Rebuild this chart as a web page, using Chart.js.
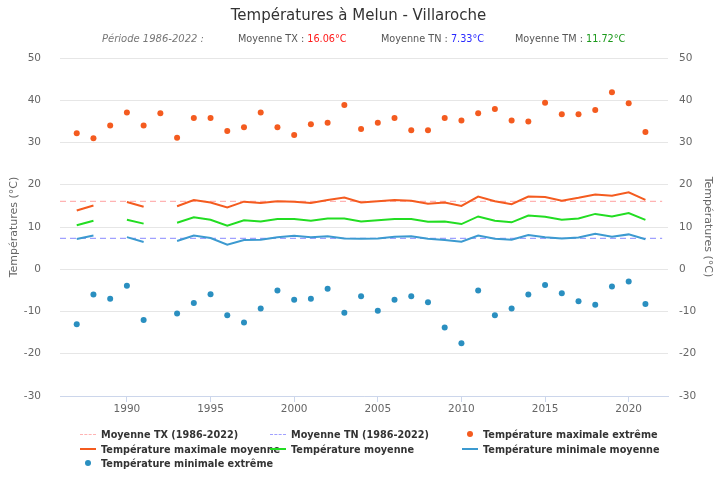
<!DOCTYPE html>
<html>
<head>
<meta charset="utf-8">
<script src="https://cdn.jsdelivr.net/npm/chart.js@4"></script>
<style>
  body { margin: 0; background: #fff; font-family: "DejaVu Sans", sans-serif; }
  #wrap { position: relative; width: 717px; height: 481px; overflow: hidden; }
  #chart { position: absolute; left: 0; top: 0; }
  #titre { position: absolute; top: 6px; left: 0; width: 717px; text-align: center; font-size: 15px; color: #333; }
  #sous { position: absolute; top: 33px; left: 0; width: 717px; font-size: 9.7px; color: #555; }
  #sous span { position: absolute; white-space: nowrap; }
  #legende { position: absolute; top: 429px; left: 80px; width: 600px; font-size: 9.7px; font-weight: bold; color: #333; }
  .item { position: absolute; white-space: nowrap; }
  .sym { display: inline-block; width: 16px; vertical-align: middle; margin-right: 5px; position: relative; top: -1px; }
</style>
</head>
<body>
<div id="wrap">
  <canvas id="chart" width="717" height="481"></canvas>
  <div id="titre">Températures à Melun - Villaroche</div>
  <div id="sous">
    <span style="left:102px;font-style:italic;color:#777;font-size:10px">Période 1986-2022 :</span>
    <span style="left:238px">Moyenne TX : <b style="font-weight:normal;color:#ff1a1a">16.06°C</b></span>
    <span style="left:381px">Moyenne TN : <b style="font-weight:normal;color:#2a2aff">7.33°C</b></span>
    <span style="left:515px">Moyenne TM : <b style="font-weight:normal;color:#1a991a">11.72°C</b></span>
  </div>
  <div id="legende"></div>
</div>
<script>
window.addEventListener('DOMContentLoaded', function () {

    // Années et séries (null = année manquante)
    const annees = [1987,1988,1989,1990,1991,1992,1993,1994,1995,1996,1997,1998,1999,2000,2001,2002,2003,2004,
                    2005,2006,2007,2008,2009,2010,2011,2012,2013,2014,2015,2016,2017,2018,2019,2020,2021];

    const txExtreme = [32.2,31.0,34.0,37.1,34.0,36.9,31.1,35.8,35.8,32.7,33.6,37.1,33.6,31.8,34.3,34.7,38.9,33.2,
                       34.7,35.8,32.9,32.9,35.8,35.2,36.9,37.9,35.2,35.0,39.4,36.7,36.7,37.7,41.9,39.3,32.5];
    const txMoyenne = [13.9,15.1,null,15.9,14.8,null,14.9,16.4,15.8,14.6,16.0,15.7,16.1,16.0,15.7,16.4,17.0,15.8,
                       16.1,16.4,16.2,15.5,15.8,15.0,17.2,16.1,15.4,17.2,17.1,16.2,16.9,17.7,17.4,18.2,16.4];
    const tmMoyenne = [10.4,11.5,null,11.7,10.8,null,11.0,12.3,11.7,10.3,11.6,11.3,11.9,11.9,11.5,12.0,12.0,11.3,
                       11.6,11.9,11.9,11.25,11.3,10.7,12.5,11.5,11.1,12.7,12.4,11.7,12.0,13.1,12.5,13.3,11.7];
    const tnMoyenne = [7.15,8.0,null,7.6,6.45,null,6.7,8.0,7.4,5.8,6.9,7.0,7.6,7.9,7.6,7.8,7.3,7.2,
                       7.3,7.7,7.8,7.2,6.9,6.5,8.0,7.2,7.0,8.1,7.6,7.3,7.5,8.4,7.7,8.25,7.1];
    const tnExtreme = [-13.0,-6.0,-7.0,-3.9,-12.0,null,-10.5,-8.0,-5.9,-10.9,-12.6,-9.3,-5.0,-7.2,-7.0,-4.6,-10.3,-6.4,
                       -9.8,-7.2,-6.4,-7.8,-13.8,-17.5,-5.0,-10.9,-9.3,-6.0,-3.7,-5.7,-7.6,-8.4,-4.1,-2.9,-8.2];

    const periode = [1986, 2022];
    const moyenneTX = 16.06;
    const moyenneTN = 7.33;
    const ticksAnnees = [1990,1995,2000,2005,2010,2015,2020];

    function points(valeurs) {
        return annees.map((a, i) => ({ x: a, y: valeurs[i] }));
    }
    function ligneMoyenne(v) {
        return periode.map(a => ({ x: a, y: v }));
    }

    const orange = '#f45b1f';
    const vert = '#22dd22';
    const bleu = '#3c9ad0';
    const bleuPoint = '#2a8fc0';

    const datasets = [
        { label: 'Moyenne TX (1986-2022)', type: 'line', data: ligneMoyenne(moyenneTX), borderColor: '#ffb3b3', borderDash: [6, 4], borderWidth: 1.3, pointRadius: 0, order: 5 },
        { label: 'Moyenne TN (1986-2022)', type: 'line', data: ligneMoyenne(moyenneTN), borderColor: '#a0a0ff', borderDash: [6, 4], borderWidth: 1.3, pointRadius: 0, order: 5 },
        { label: 'Température maximale extrême', type: 'scatter', data: points(txExtreme), backgroundColor: orange, borderColor: orange, pointRadius: 3, pointBorderWidth: 0, order: 1 },
        { label: 'Température maximale moyenne', type: 'line', data: points(txMoyenne), borderColor: orange, borderWidth: 2, pointRadius: 0, spanGaps: false, order: 2 },
        { label: 'Température moyenne', type: 'line', data: points(tmMoyenne), borderColor: vert, borderWidth: 2, pointRadius: 0, spanGaps: false, order: 2 },
        { label: 'Température minimale moyenne', type: 'line', data: points(tnMoyenne), borderColor: bleu, borderWidth: 2, pointRadius: 0, spanGaps: false, order: 2 },
        { label: 'Température minimale extrême', type: 'scatter', data: points(tnExtreme), backgroundColor: bleuPoint, borderColor: bleuPoint, pointRadius: 3, pointBorderWidth: 0, order: 1 }
    ];

    const gris = '#666';
    const policeAxe = { family: 'DejaVu Sans', size: 10.5 };

    const chart = new Chart(document.getElementById('chart').getContext('2d'), {
        type: 'line',
        data: { datasets: datasets },
        options: {
            responsive: false,
            animation: false,
            layout: { padding: { top: 58, bottom: 66, left: 0, right: 0 } },
            plugins: { legend: { display: false }, tooltip: { enabled: false } },
            scales: {
                x: {
                    type: 'linear', min: 1986, max: 2022.35,
                    afterBuildTicks: s => { s.ticks = ticksAnnees.map(v => ({ value: v })); },
                    afterFit: s => { s.height = 19; },
                    grid: { drawOnChartArea: false, color: '#ccd6eb', tickLength: 6 },
                    border: { color: '#ccd6eb' },
                    ticks: { color: gris, font: policeAxe, padding: 1, maxRotation: 0, callback: v => String(v) }
                },
                y: {
                    position: 'left', min: -30, max: 50,
                    afterFit: s => { s.width = 60; },
                    grid: { color: '#e6e6e6', drawTicks: false },
                    border: { display: false },
                    ticks: { stepSize: 10, color: gris, font: policeAxe, padding: 19 },
                    title: { display: true, text: 'Températures (°C)', color: gris, font: { family: 'DejaVu Sans', size: 11 }, padding: { top: 8, bottom: 0 } }
                },
                y2: {
                    position: 'right', min: -30, max: 50,
                    afterFit: s => { s.width = 49; },
                    grid: { display: false, drawTicks: false },
                    border: { display: false },
                    ticks: { stepSize: 10, color: gris, font: policeAxe, padding: 11 },
                    title: { display: true, text: 'Températures (°C)', color: gris, font: { family: 'DejaVu Sans', size: 11 }, padding: { top: 3, bottom: 0 } }
                }
            }
        }
    });

    // Légende HTML en trois colonnes
    const legende = document.getElementById('legende');
    const cols = [0, 190, 382];
    chart.data.datasets.forEach((ds, i) => {
        const item = document.createElement('div');
        item.className = 'item';
        item.style.left = cols[i % 3] + 'px';
        item.style.top = (Math.floor(i / 3) * 14.5) + 'px';
        const sym = document.createElement('span');
        sym.className = 'sym';
        if (ds.type === 'scatter') {
            sym.innerHTML = '<span style="display:block;width:6px;height:6px;border-radius:3px;margin-left:5px;background:' + ds.backgroundColor + '"></span>';
        } else if (ds.borderDash) {
            sym.style.borderTop = '1.5px dashed ' + ds.borderColor;
        } else {
            sym.style.borderTop = '2px solid ' + ds.borderColor;
        }
        item.appendChild(sym);
        item.appendChild(document.createTextNode(ds.label));
        legende.appendChild(item);
    });
});
</script>
</body>
</html>
